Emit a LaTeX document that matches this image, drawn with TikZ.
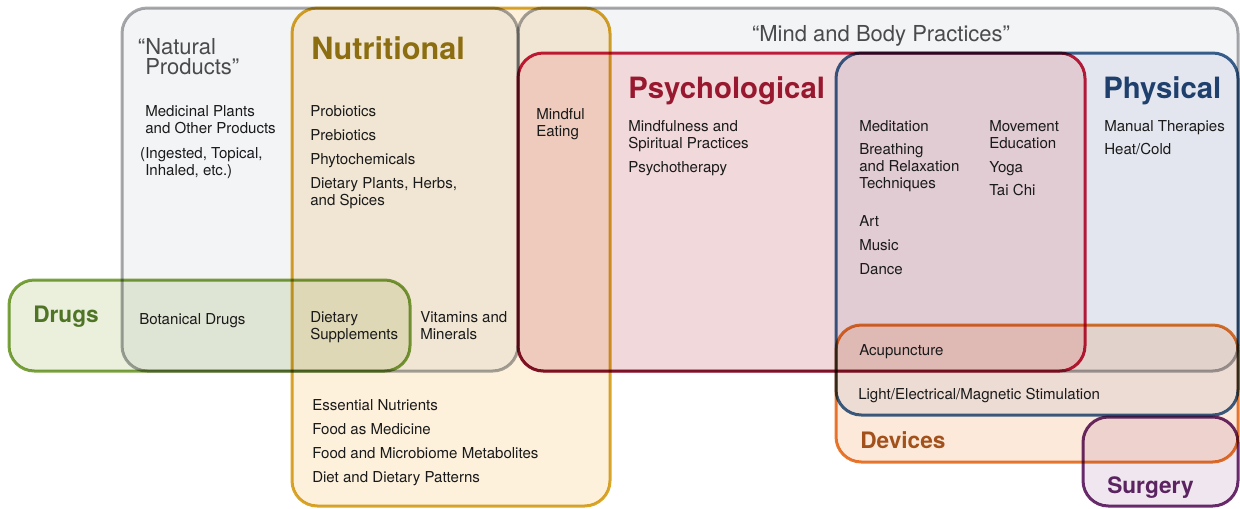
\documentclass[tikz,border=0pt]{standalone}
\usepackage{fontspec}
\setmainfont{TeX Gyre Heros}

%% line and fill colours of the regions
\definecolor{mbline}{HTML}{A6A8AB}
\definecolor{mbfill}{HTML}{F3F4F6}
\definecolor{nutline}{HTML}{D9A82A}
\definecolor{nutfill}{HTML}{FDF1DC}
\definecolor{psyline}{HTML}{C81F3F}
\definecolor{psyfill}{HTML}{FDE2E4}
\definecolor{phyline}{HTML}{3D6491}
\definecolor{phyfill}{HTML}{EFF1F8}
\definecolor{devline}{HTML}{E87A30}
\definecolor{devfill}{HTML}{FDE9DA}
\definecolor{surline}{HTML}{6B2D6E}
\definecolor{surfill}{HTML}{F0E6F0}
\definecolor{druline}{HTML}{7BA33E}
\definecolor{drufill}{HTML}{EBF0DC}
%% text colours
\definecolor{ink}{HTML}{1A1A1A}
\definecolor{grayink}{HTML}{4A4A4C}
\definecolor{nutink}{HTML}{8C6D10}
\definecolor{psyink}{HTML}{98192F}
\definecolor{phyink}{HTML}{1F3F6D}
\definecolor{druink}{HTML}{4F7426}
\definecolor{devink}{HTML}{A3511B}
\definecolor{surink}{HTML}{5B2461}

\begin{document}
\begin{tikzpicture}[x=0.75pt,y=-0.75pt,
    region/.style={line width=2.25pt, rounded corners=19pt, blend mode=multiply},
    item/.style={anchor=north west, inner sep=0pt, align=left, text=ink,
      font=\fontsize{11.3}{13}\selectfont},
    title/.style={anchor=north west, inner sep=0pt,
      font=\fontsize{22}{22}\selectfont\bfseries},
    subtitle/.style={anchor=north west, inner sep=0pt,
      font=\fontsize{17}{17}\selectfont\bfseries},
    group/.style={inner sep=0pt, align=left, text=grayink,
      font=\fontsize{16.5}{15}\selectfont}]
  \useasboundingbox (0,0) rectangle (1240,508);

  %% The overlapping regions
  \foreach \xa/\ya/\xb/\yb/\l/\f in {518/8/1238/371/mbline/mbfill,
      122/8/518/371/mbline/mbfill,
      292/8/610/506/nutline/nutfill,
      518/53/1085/371/psyline/psyfill,
      836/53/1238/415/phyline/phyfill,
      836/325/1238/462/devline/devfill,
      1083/417/1238/506/surline/surfill,
      9/280/410/371/druline/drufill}
  {
    \draw[region, draw=\l, fill=\f] (\xa,\ya) rectangle (\xb,\yb);
  }

  %% Region titles
  \node[group, anchor=north west] (NAT) at (145,38) {\llap{“}Natural\\Products”};
  \node[group, anchor=north] (MIND) at (881,25) {“Mind and Body Practices”};
  \node[title, text=nutink, font=\fontsize{23}{23}\selectfont\bfseries] (NUT) at (311,36) {Nutritional};
  \node[title, text=psyink] (PSY) at (628,76) {Psychological};
  \node[title, text=phyink] (PHY) at (1103,76) {Physical};
  \node[subtitle, text=druink] (DRU) at (33,306) {Drugs};
  \node[subtitle, text=devink] (DEV) at (860,431) {Devices};
  \node[subtitle, text=surink] (SUR) at (1107,476) {Surgery};

  %% Natural products
  \node[item] (NAT1) at (145,105) {Medicinal Plants\\and Other Products};
  \node[item] (NAT2) at (145,147) {\llap{(}Ingested, Topical,\\Inhaled, etc.)};
  \node[item] (BOT) at (139,313) {Botanical Drugs};

  %% Nutritional
  \foreach \t [count=\i] in {Probiotics, Prebiotics, Phytochemicals}
    \node[item] (NUT\i) at (310,{105+24*(\i-1)}) {\t};
  \node[item] (NUT4) at (310,177) {Dietary Plants, Herbs,\\and Spices};
  \node[item] (SUP) at (310,311) {Dietary\\Supplements};
  \node[item] (VIT) at (420,311) {Vitamins and\\Minerals};
  \foreach \t [count=\i] in {Essential Nutrients, Food as Medicine,
      Food and Microbiome Metabolites, Diet and Dietary Patterns}
    \node[item] (FOOD\i) at (312,{399+24*(\i-1)}) {\t};
  \node[item] (EAT) at (536,108) {Mindful\\Eating};

  %% Psychological
  \node[item] (PSY1) at (628,120) {Mindfulness and\\Spiritual Practices};
  \node[item] (PSY2) at (628,161) {Psychotherapy};

  %% Psychological and physical
  \node[item] (MED) at (859,120) {Meditation};
  \node[item] (BRE) at (859,143) {Breathing\\and Relaxation\\Techniques};
  \foreach \t [count=\i] in {Art, Music, Dance}
    \node[item] (ART\i) at (859,{215+24*(\i-1)}) {\t};
  \node[item] (MOV) at (989,120) {Movement\\Education};
  \node[item] (YOG) at (989,161) {Yoga};
  \node[item] (TAI) at (989,184) {Tai Chi};

  %% Physical
  \node[item] (MAN) at (1104,120) {Manual Therapies};
  \node[item] (HEA) at (1104,143) {Heat/Cold};
  \node[item] (ACU) at (859,344) {Acupuncture};
  \node[item] (LIG) at (858,388) {Light/Electrical/Magnetic Stimulation};
\end{tikzpicture}
\end{document}
